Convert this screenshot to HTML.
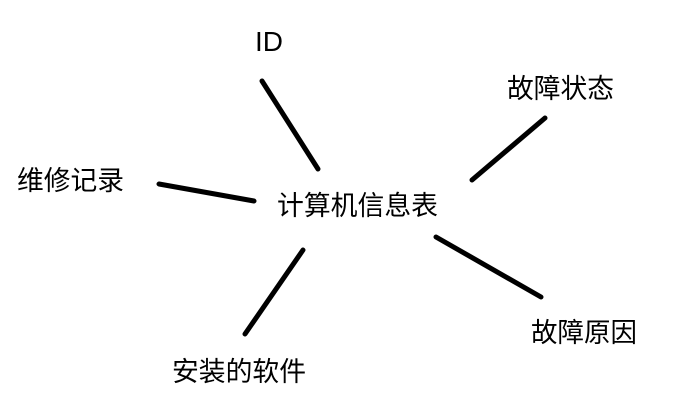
<!DOCTYPE html>
<html><head><meta charset="utf-8"><style>
html,body{margin:0;padding:0;background:#fff;}
svg{display:block;}
text{font-family:"Liberation Sans","Noto Sans CJK SC",sans-serif;font-size:27px;fill:#000;}
</style></head><body>
<svg width="674" height="401" viewBox="0 0 674 401" xmlns="http://www.w3.org/2000/svg">
<g stroke="#000" stroke-width="5" stroke-linecap="round">
<line x1="262" y1="81" x2="318" y2="169"/>
<line x1="545" y1="118" x2="472" y2="180"/>
<line x1="159" y1="184" x2="254" y2="201"/>
<line x1="436" y1="237" x2="541" y2="297"/>
<line x1="303" y1="250" x2="245" y2="334"/>
</g>
<text x="255" y="51" style="font-size:28px" textLength="28" lengthAdjust="spacingAndGlyphs">ID</text>
<text x="277" y="215" textLength="161" lengthAdjust="spacingAndGlyphs">计算机信息表</text>
<text x="507" y="98" textLength="107" lengthAdjust="spacingAndGlyphs">故障状态</text>
<text x="17" y="190" textLength="107" lengthAdjust="spacingAndGlyphs">维修记录</text>
<text x="531" y="342" textLength="106" lengthAdjust="spacingAndGlyphs">故障原因</text>
<text x="172" y="381" textLength="134" lengthAdjust="spacingAndGlyphs">安装的软件</text>
</svg>
</body></html>
